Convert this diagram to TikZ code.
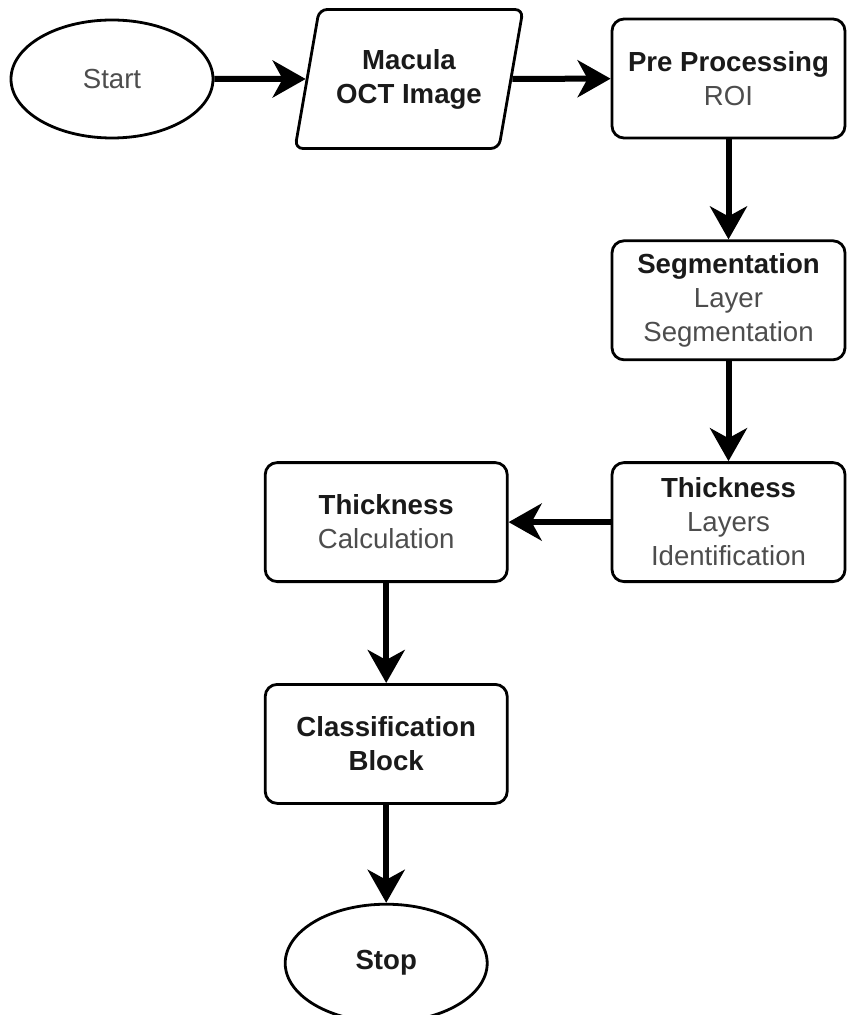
\documentclass[tikz,border=0pt]{standalone}
\usepackage{fontspec}
\setmainfont{Liberation Sans}
\usetikzlibrary{arrows.meta,positioning,shapes.geometric}

\definecolor{txtgray}{HTML}{4D4D4D}
\definecolor{txtdark}{HTML}{1A1A1A}

\tikzset{
  base/.style={draw,line width=1.4pt,inner sep=0pt,align=center,text=txtgray,
    font=\fontsize{13.8pt}{17pt}\selectfont},
  terminal/.style={base,ellipse,minimum width=101pt,minimum height=59pt},
  io/.style={base,trapezium,trapezium left angle=68,trapezium right angle=112,
    trapezium stretches body,rounded corners=4pt,minimum width=114pt,minimum height=69.5pt},
  process/.style={base,rectangle,rounded corners=6pt,minimum width=116.5pt,minimum height=59.5pt},
  flow/.style={->,line width=3pt}
}
\newcommand{\hd}[1]{\textcolor{txtdark}{\bfseries #1}}

\begin{document}
\begin{tikzpicture}[>={Stealth[length=16.5pt,width=18.5pt,inset=5pt]},node distance=50pt,x=0.5pt,y=0.5pt]
  \useasboundingbox (0,0) rectangle (846,-1015);

  \node[process] (pre) at (728.5,-78.5) {\hd{Pre Processing}\\ROI};
  \node[io]       (oct) at (409,-79)     {\hd{Macula}\\\hd{OCT Image}};
  \node[terminal] (start) at (112,-79)   {Start};
  \node[process]  (seg)    [below=of pre]       {\hd{Segmentation}\\Layer\\Segmentation};
  \node[process]  (layers) [below=of seg]       {\hd{Thickness}\\Layers\\Identification};
  \node[process,minimum width=121pt] (calc) [left=51pt of layers] {\hd{Thickness}\\Calculation};
  \node[process,minimum width=121pt] (cls)  [below=of calc]       {\hd{Classification}\\\hd{Block}};
  \node[terminal] (stop)   [below=49pt of cls]  {\hd{Stop}};

  \path[flow]
   (start)  edge (oct)
   (oct)    edge (pre)
   (pre)    edge (seg)
   (seg)    edge (layers)
   (layers) edge (calc)
   (calc)   edge (cls)
   (cls)    edge (stop);

\end{tikzpicture}
\end{document}
